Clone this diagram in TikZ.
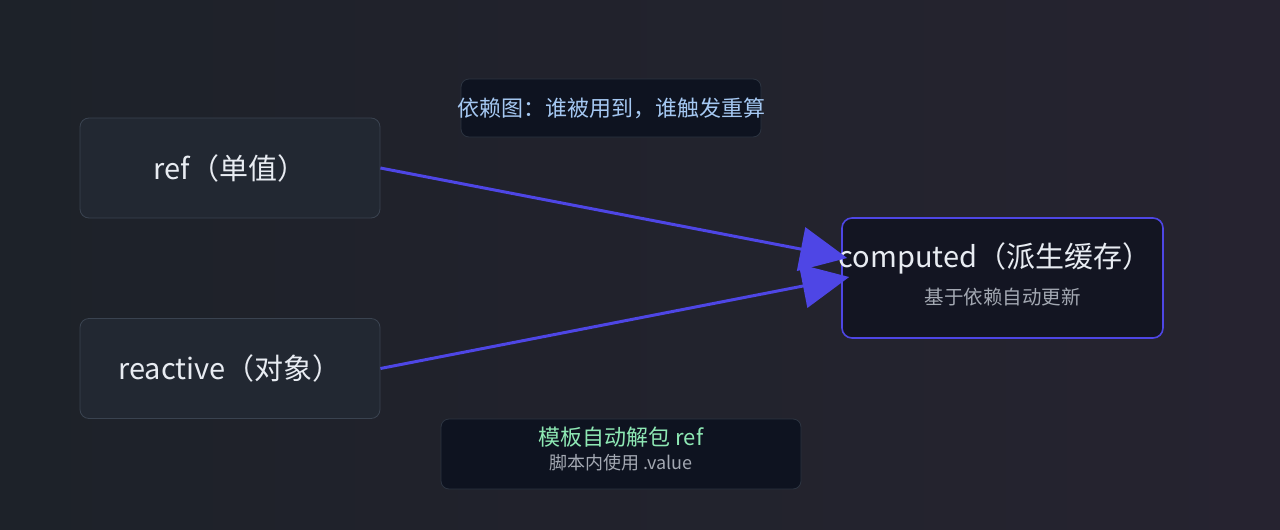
\documentclass[tikz,border=0pt]{standalone}
\usepackage{fontspec}
\setmainfont{Noto Sans CJK SC}
\usetikzlibrary{arrows.meta}
\definecolor{bgL}{HTML}{1D2229}
\definecolor{bgR}{HTML}{262330}
\definecolor{boxfill}{HTML}{222832}
\definecolor{boxline}{HTML}{3A4350}
\definecolor{darkfill}{HTML}{0E1320}
\definecolor{darkline}{HTML}{2C3441}
\definecolor{compfill}{HTML}{131522}
\definecolor{indigo}{HTML}{4E46E5}
\definecolor{maintext}{HTML}{E8ECF2}
\definecolor{subtext}{HTML}{A3A8B2}
\definecolor{bluetext}{HTML}{A5C8F2}
\definecolor{greentext}{HTML}{8EE8B4}
\tikzset{
  srcbox/.style={draw=boxline, fill=boxfill, rounded corners=9pt, line width=0.8pt,
    minimum width=300pt, minimum height=100pt, inner sep=0pt,
    text=maintext, font=\fontsize{29}{32}\selectfont},
  compbox/.style={draw=indigo, fill=compfill, rounded corners=10pt, line width=1.6pt,
    minimum width=321pt, minimum height=120pt, inner sep=0pt},
  notebox/.style={draw=darkline, fill=darkfill, rounded corners=8pt, line width=0.8pt, inner sep=0pt},
  bigtxt/.style={text=maintext, font=\fontsize{29}{32}\selectfont, inner sep=0pt},
  smalltxt/.style={text=subtext, font=\fontsize{19.5}{22}\selectfont, inner sep=0pt},
  flow/.style={draw=indigo, line width=3pt, -{Triangle[length=47pt,width=44pt]}}
}
\begin{document}
\begin{tikzpicture}[x=1pt,y=-1pt]
\shade[left color=bgL, right color=bgR] (0,0) rectangle (1280,530);
\useasboundingbox (0,0) rectangle (1280,530);

\node[notebox, minimum width=300pt, minimum height=58pt] (top) at (611,108) {};
\node[text=bluetext, font=\fontsize{22}{24}\selectfont, inner sep=0pt] (toptxt) at (611,108) {依赖图：谁被用到，谁触发重算};

\node[srcbox] (ref) at (230,168) {ref（单值）};
\node[srcbox] (reactive) at (230,368.5) {reactive（对象）};

\node[compbox] (comp) at (1002.5,278) {};
\node[bigtxt] (comptitle) at (995,258) {computed（派生缓存）};
\node[smalltxt] (compsub) at (1002.5,297) {基于依赖自动更新};

\node[notebox, minimum width=360pt, minimum height=70pt] (bot) at (621,454) {};
\node[text=greentext, font=\fontsize{22}{24}\selectfont, inner sep=0pt] (bottitle) at (621,437) {模板自动解包 ref};
\node[smalltxt, font=\fontsize{18}{20}\selectfont] (botsub) at (621,463) {脚本内使用 .value};

\draw[flow] (ref.east) -- ([xshift=6pt,yshift=20pt]comp.west);
\draw[flow] (reactive.east) -- ([xshift=8pt,yshift=1pt]comp.west);
\end{tikzpicture}
\end{document}
